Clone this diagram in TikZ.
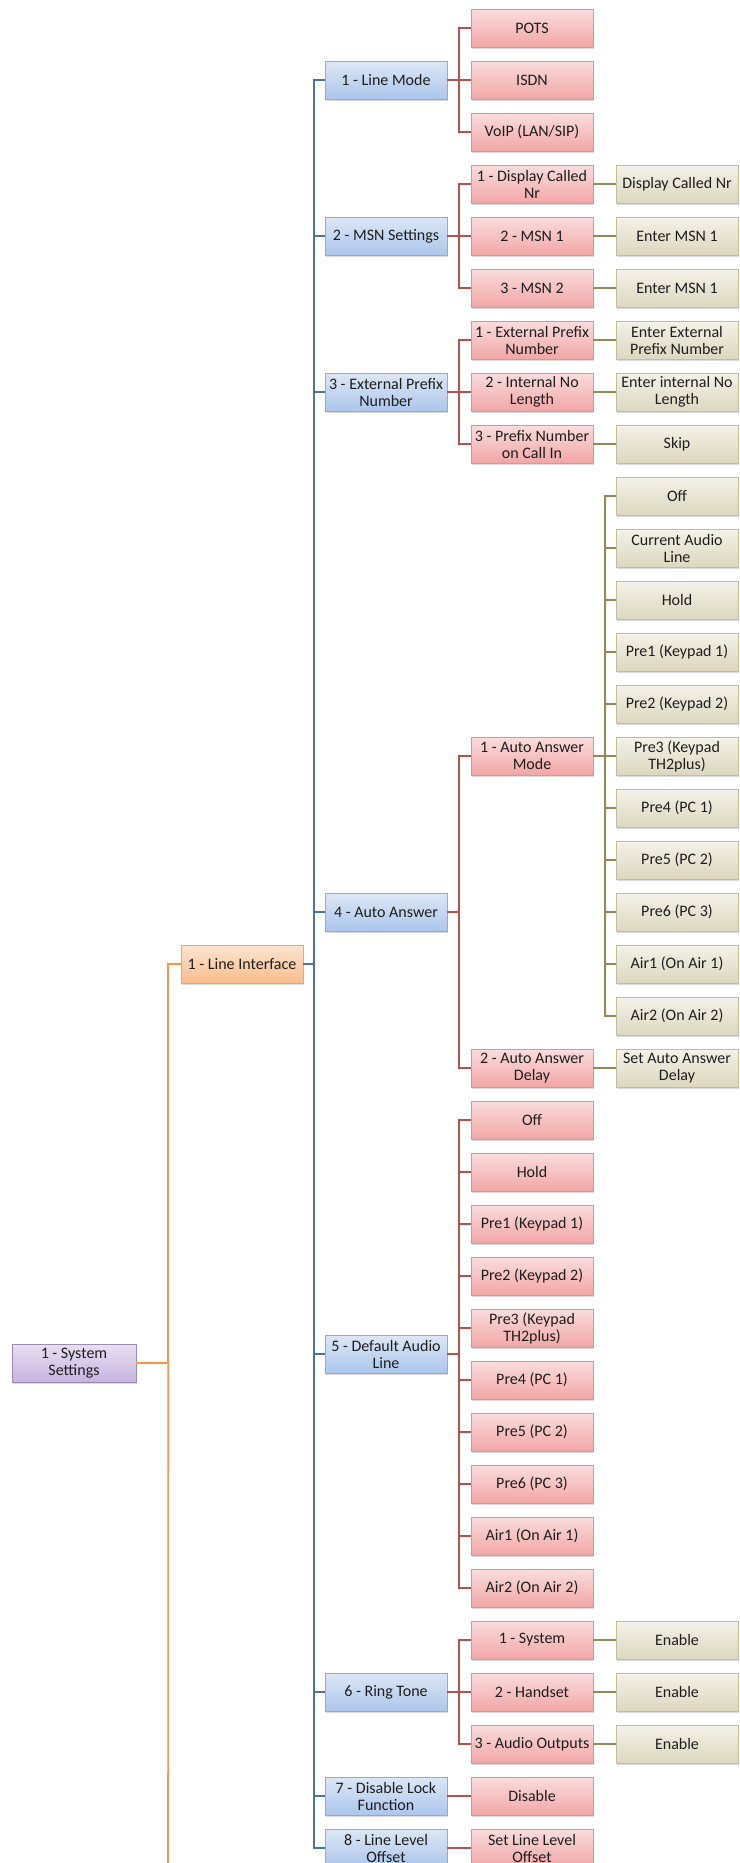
\documentclass[tikz,border=0pt]{standalone}
\usepackage{fontspec}
\setmainfont{Carlito}
\usetikzlibrary{shadows}

\definecolor{txtgray}{HTML}{1E1E1E}
\definecolor{sysline}{HTML}{F79646}
\definecolor{ifline}{HTML}{4A74A8}
\definecolor{menuline}{HTML}{B5524E}
\definecolor{valline}{HTML}{938953}
\definecolor{sysdraw}{HTML}{9E8BB8}
\definecolor{systop}{HTML}{E8E0F2}
\definecolor{sysbot}{HTML}{C7B3E0}
\definecolor{ifdraw}{HTML}{E3A878}
\definecolor{iftop}{HTML}{FDE4D0}
\definecolor{ifbot}{HTML}{F9BD8B}
\definecolor{menudraw}{HTML}{8EAADB}
\definecolor{menutop}{HTML}{DDE7F5}
\definecolor{menubot}{HTML}{ACC6EC}
\definecolor{subdraw}{HTML}{D99694}
\definecolor{subtop}{HTML}{FADDDD}
\definecolor{subbot}{HTML}{F2A6A6}
\definecolor{valdraw}{HTML}{C4BD97}
\definecolor{valtop}{HTML}{F4F2E9}
\definecolor{valbot}{HTML}{DCD7BE}

\begin{document}
\begin{tikzpicture}[x=1pt,y=-1pt,
  box/.style={draw,line width=0.5pt,minimum width=122pt,minimum height=38pt,
    inner sep=0pt,align=center,text=txtgray,
    font=\fontsize{16}{17}\selectfont,
    drop shadow={shadow xshift=1.2pt,shadow yshift=-1.8pt,opacity=0.3}},
  sysbox/.style={box,minimum width=124pt,draw=sysdraw,
    top color=systop,bottom color=sysbot},
  ifbox/.style={box,draw=ifdraw,top color=iftop,bottom color=ifbot},
  menubox/.style={box,draw=menudraw,top color=menutop,bottom color=menubot},
  subbox/.style={box,draw=subdraw,top color=subtop,bottom color=subbot},
  valbox/.style={box,draw=valdraw,top color=valtop,bottom color=valbot},
  conn/.style={line width=1.6pt}]
  \useasboundingbox (0,0) rectangle (739,1863);

  % level 0 and 1
  \node[sysbox] (ss) at (74,1363) {1 - System\\Settings};
  \node[ifbox] (li) at (242,964) {1 - Line Interface};

  % level 2
  \node[menubox] (lm) at (386,80) {1 - Line Mode};
  \node[menubox] (msn) at (386,236) {2 - MSN Settings};
  \node[menubox] (epn) at (386,392) {3 - External Prefix\\Number};
  \node[menubox] (aa) at (386,912) {4 - Auto Answer};
  \node[menubox] (dal) at (386,1354) {5 - Default Audio\\Line};
  \node[menubox] (rt) at (386,1692) {6 - Ring Tone};
  \node[menubox] (dlf) at (386,1796) {7 - Disable Lock\\Function};
  \node[menubox] (llo) at (386,1848) {8 - Line Level\\Offset};

  % level 3
  \node[subbox] (pots) at (532,28) {POTS};
  \node[subbox] (isdn) at (532,80) {ISDN};
  \node[subbox] (voip) at (532,132) {VoIP (LAN/SIP)};
  \node[subbox] (dcn) at (532,184) {1 - Display Called\\Nr};
  \node[subbox] (msna) at (532,236) {2 - MSN 1};
  \node[subbox] (msnb) at (532,288) {3 - MSN 2};
  \node[subbox] (xpn) at (532,340) {1 - External Prefix\\Number};
  \node[subbox] (inl) at (532,392) {2 - Internal No\\Length};
  \node[subbox] (pnc) at (532,444) {3 - Prefix Number\\on Call In};
  \node[subbox] (aam) at (532,756) {1 - Auto Answer\\Mode};
  \node[subbox] (aad) at (532,1068) {2 - Auto Answer\\Delay};
  \node[subbox] (d1) at (532,1120) {Off};
  \node[subbox] (d2) at (532,1172) {Hold};
  \node[subbox] (d3) at (532,1224) {Pre1 (Keypad 1)};
  \node[subbox] (d4) at (532,1276) {Pre2 (Keypad 2)};
  \node[subbox] (d5) at (532,1328) {Pre3 (Keypad\\TH2plus)};
  \node[subbox] (d6) at (532,1380) {Pre4 (PC 1)};
  \node[subbox] (d7) at (532,1432) {Pre5 (PC 2)};
  \node[subbox] (d8) at (532,1484) {Pre6 (PC 3)};
  \node[subbox] (d9) at (532,1536) {Air1 (On Air 1)};
  \node[subbox] (d10) at (532,1588) {Air2 (On Air 2)};
  \node[subbox] (rsys) at (532,1640) {1 - System};
  \node[subbox] (rhs) at (532,1692) {2 - Handset};
  \node[subbox] (rao) at (532,1744) {3 - Audio Outputs};
  \node[subbox] (dis) at (532,1796) {Disable};
  \node[subbox] (sllo) at (532,1848) {Set Line Level\\Offset};

  % level 4
  \node[valbox] (vdcn) at (677,184) {Display Called Nr};
  \node[valbox] (vmsna) at (677,236) {Enter MSN 1};
  \node[valbox] (vmsnb) at (677,288) {Enter MSN 1};
  \node[valbox] (vxpn) at (677,340) {Enter External\\Prefix Number};
  \node[valbox] (vinl) at (677,392) {Enter internal No\\Length};
  \node[valbox] (vpnc) at (677,444) {Skip};
  \node[valbox] (a1) at (677,496) {Off};
  \node[valbox] (a2) at (677,548) {Current Audio\\Line};
  \node[valbox] (a3) at (677,600) {Hold};
  \node[valbox] (a4) at (677,652) {Pre1 (Keypad 1)};
  \node[valbox] (a5) at (677,704) {Pre2 (Keypad 2)};
  \node[valbox] (a6) at (677,756) {Pre3 (Keypad\\TH2plus)};
  \node[valbox] (a7) at (677,808) {Pre4 (PC 1)};
  \node[valbox] (a8) at (677,860) {Pre5 (PC 2)};
  \node[valbox] (a9) at (677,912) {Pre6 (PC 3)};
  \node[valbox] (a10) at (677,964) {Air1 (On Air 1)};
  \node[valbox] (a11) at (677,1016) {Air2 (On Air 2)};
  \node[valbox] (vaad) at (677,1068) {Set Auto Answer\\Delay};
  \node[valbox] (en1) at (677,1640) {Enable};
  \node[valbox] (en2) at (677,1692) {Enable};
  \node[valbox] (en3) at (677,1744) {Enable};

  % connectors
  \coordinate (ssend) at (168,1870);
  \draw[conn,sysline] (ss.east) -- ++(32,0) |- (li.west);
  \draw[conn,sysline] (ss.east) -- ++(32,0) -- (ssend);

  \draw[conn,ifline] (li.east) -- ++(11,0) |- (lm.west);
  \draw[conn,ifline] (li.east) -- ++(11,0) |- (msn.west);
  \draw[conn,ifline] (li.east) -- ++(11,0) |- (epn.west);
  \draw[conn,ifline] (li.east) -- ++(11,0) |- (aa.west);
  \draw[conn,ifline] (li.east) -- ++(11,0) |- (dal.west);
  \draw[conn,ifline] (li.east) -- ++(11,0) |- (rt.west);
  \draw[conn,ifline] (li.east) -- ++(11,0) |- (dlf.west);
  \draw[conn,ifline] (li.east) -- ++(11,0) |- (llo.west);

  \draw[conn,menuline] (lm.east) -- ++(12,0) |- (pots.west);
  \draw[conn,menuline] (lm.east) -- (isdn.west);
  \draw[conn,menuline] (lm.east) -- ++(12,0) |- (voip.west);
  \draw[conn,menuline] (msn.east) -- ++(12,0) |- (dcn.west);
  \draw[conn,menuline] (msn.east) -- (msna.west);
  \draw[conn,menuline] (msn.east) -- ++(12,0) |- (msnb.west);
  \draw[conn,menuline] (epn.east) -- ++(12,0) |- (xpn.west);
  \draw[conn,menuline] (epn.east) -- (inl.west);
  \draw[conn,menuline] (epn.east) -- ++(12,0) |- (pnc.west);
  \draw[conn,menuline] (aa.east) -- ++(12,0) |- (aam.west);
  \draw[conn,menuline] (aa.east) -- ++(12,0) |- (aad.west);
  \draw[conn,menuline] (dal.east) -- ++(12,0) |- (d1.west);
  \draw[conn,menuline] (dal.east) -- ++(12,0) |- (d2.west);
  \draw[conn,menuline] (dal.east) -- ++(12,0) |- (d3.west);
  \draw[conn,menuline] (dal.east) -- ++(12,0) |- (d4.west);
  \draw[conn,menuline] (dal.east) -- ++(12,0) |- (d5.west);
  \draw[conn,menuline] (dal.east) -- ++(12,0) |- (d6.west);
  \draw[conn,menuline] (dal.east) -- ++(12,0) |- (d7.west);
  \draw[conn,menuline] (dal.east) -- ++(12,0) |- (d8.west);
  \draw[conn,menuline] (dal.east) -- ++(12,0) |- (d9.west);
  \draw[conn,menuline] (dal.east) -- ++(12,0) |- (d10.west);
  \draw[conn,menuline] (rt.east) -- ++(12,0) |- (rsys.west);
  \draw[conn,menuline] (rt.east) -- (rhs.west);
  \draw[conn,menuline] (rt.east) -- ++(12,0) |- (rao.west);
  \draw[conn,menuline] (dlf.east) -- (dis.west);
  \draw[conn,menuline] (llo.east) -- (sllo.west);

  \draw[conn,valline] (dcn.east) -- (vdcn.west);
  \draw[conn,valline] (msna.east) -- (vmsna.west);
  \draw[conn,valline] (msnb.east) -- (vmsnb.west);
  \draw[conn,valline] (xpn.east) -- (vxpn.west);
  \draw[conn,valline] (inl.east) -- (vinl.west);
  \draw[conn,valline] (pnc.east) -- (vpnc.west);
  \draw[conn,valline] (aam.east) -- ++(12,0) |- (a1.west);
  \draw[conn,valline] (aam.east) -- ++(12,0) |- (a2.west);
  \draw[conn,valline] (aam.east) -- ++(12,0) |- (a3.west);
  \draw[conn,valline] (aam.east) -- ++(12,0) |- (a4.west);
  \draw[conn,valline] (aam.east) -- ++(12,0) |- (a5.west);
  \draw[conn,valline] (aam.east) -- (a6.west);
  \draw[conn,valline] (aam.east) -- ++(12,0) |- (a7.west);
  \draw[conn,valline] (aam.east) -- ++(12,0) |- (a8.west);
  \draw[conn,valline] (aam.east) -- ++(12,0) |- (a9.west);
  \draw[conn,valline] (aam.east) -- ++(12,0) |- (a10.west);
  \draw[conn,valline] (aam.east) -- ++(12,0) |- (a11.west);
  \draw[conn,valline] (aad.east) -- (vaad.west);
  \draw[conn,valline] (rsys.east) -- (en1.west);
  \draw[conn,valline] (rhs.east) -- (en2.west);
  \draw[conn,valline] (rao.east) -- (en3.west);
\end{tikzpicture}
\end{document}
